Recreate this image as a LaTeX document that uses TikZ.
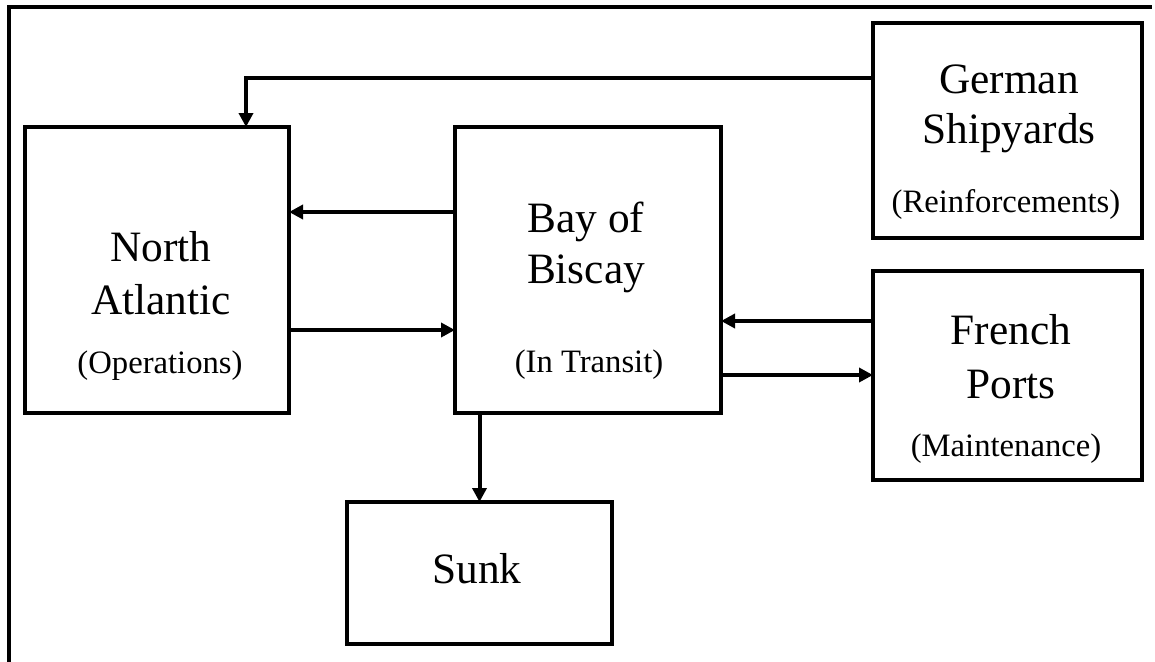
\documentclass[tikz,border=0pt]{standalone}
\usepackage{fontspec}
\setmainfont{Liberation Serif}
\usetikzlibrary{arrows.meta,calc}
\tikzset{
  boxnode/.style={draw, line width=2.6pt, inner sep=0pt, outer sep=0pt},
  bigtxt/.style={anchor=base, inner sep=0pt, font=\fontsize{32.5}{39}\selectfont},
  subtxt/.style={anchor=base, inner sep=0pt, font=\fontsize{24.5}{29}\selectfont},
  arr/.style={line width=3pt, -{Triangle[length=10.5pt,width=10.5pt]}},
  framestyle/.style={line width=2.6pt}
}
\begin{document}
\begin{tikzpicture}[x=0.75pt,y=-0.75pt]
\useasboundingbox (0,0) rectangle (1155,661);
% outer frame (left and top only)
\coordinate (fbl) at (9,662);
\coordinate (ftl) at (9,7);
\coordinate (ftr) at (1152,7);
\draw[framestyle] (fbl) -- (ftl) -- (ftr);

% boxes
\node[boxnode, minimum width=198pt, minimum height=214.5pt] (NA) at (157,270) {};
\node[boxnode, minimum width=199.5pt, minimum height=214.5pt] (Bay) at (588,270) {};
\node[boxnode, minimum width=201.75pt, minimum height=161.25pt] (Ger) at (1007.5,130.5) {};
\node[boxnode, minimum width=201.75pt, minimum height=156.75pt] (Fr) at (1007.5,375.5) {};
\node[boxnode, minimum width=198.75pt, minimum height=106.5pt] (Sunk) at (479.5,573) {};

% texts
\node[bigtxt] (na1) at (161,261) {North};
\node[bigtxt] (na2) at (161,314) {Atlantic};
\node[subtxt] (na3) at (160,373) {(Operations)};

\node[bigtxt] (b1) at (586,232) {Bay of};
\node[bigtxt] (b2) at (586,283) {Biscay};
\node[subtxt] (b3) at (589,372) {(In Transit)};

\node[bigtxt] (g1) at (1009,93) {German};
\node[bigtxt] (g2) at (1009,143) {Shipyards};
\node[subtxt] (g3) at (1006,212) {(Reinforcements)};

\node[bigtxt] (f1) at (1011,344) {French};
\node[bigtxt] (f2) at (1011,398) {Ports};
\node[subtxt] (f3) at (1006,456) {(Maintenance)};

\node[bigtxt] (s1) at (477,583) {Sunk};

% connectors
\draw[arr] ($(Ger.north west)+(0,55)$) -| ($(NA.north east)+(-43,0)$);
\draw[arr] ($(Bay.north west)+(0,85)$) -- ($(NA.north east)+(0,85)$);
\draw[arr] ($(NA.north east)+(0,203)$) -- ($(Bay.north west)+(0,203)$);
\draw[arr] ($(Fr.north west)+(0,50)$) -- ($(Bay.north east)+(0,194)$);
\draw[arr] ($(Bay.north east)+(0,248)$) -- ($(Fr.north west)+(0,104)$);
\draw[arr] (Bay.south west -| Sunk.north) -- (Sunk.north);
\end{tikzpicture}
\end{document}
